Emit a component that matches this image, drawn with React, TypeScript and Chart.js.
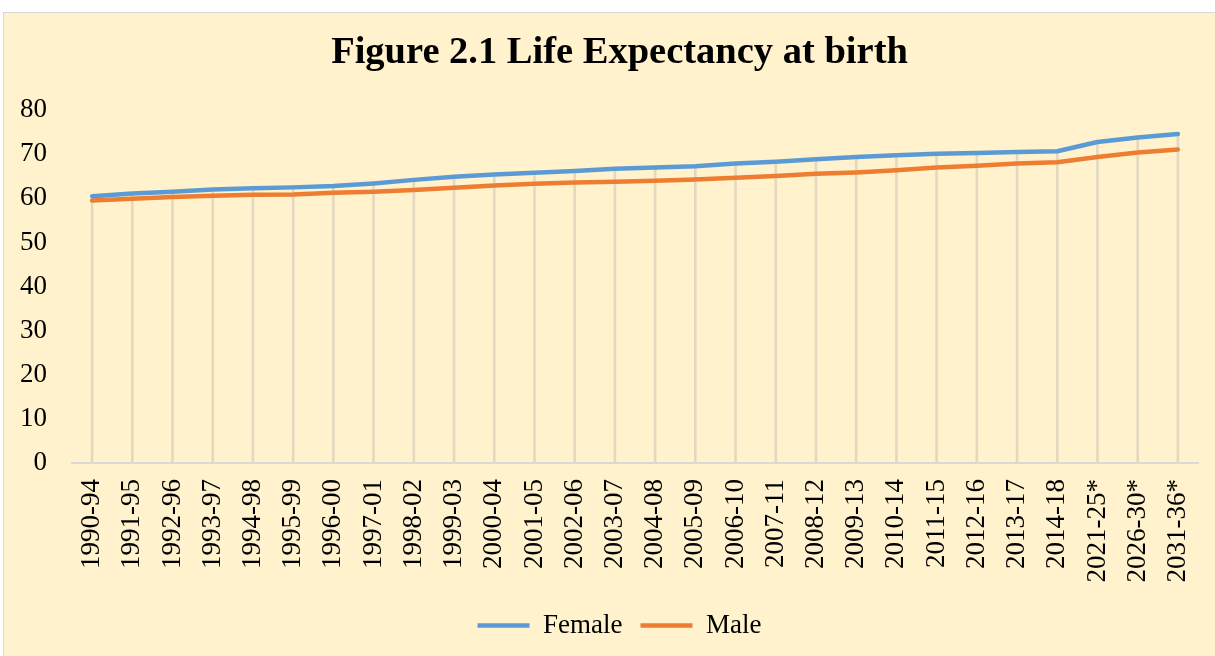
import React, { useEffect, useRef } from "react";
import { Chart, registerables } from "chart.js";

Chart.register(...registerables);

const periods: string[] = [
  "1990-94", "1991-95", "1992-96", "1993-97", "1994-98", "1995-99", "1996-00",
  "1997-01", "1998-02", "1999-03", "2000-04", "2001-05", "2002-06", "2003-07",
  "2004-08", "2005-09", "2006-10", "2007-11", "2008-12", "2009-13", "2010-14",
  "2011-15", "2012-16", "2013-17", "2014-18", "2021-25*", "2026-30*", "2031-36*",
];

const female: number[] = [
  60.5, 61.1, 61.5, 62.0, 62.3, 62.5, 62.8, 63.4, 64.2, 64.9, 65.4, 65.8, 66.2, 66.7,
  67.0, 67.3, 67.9, 68.3, 68.9, 69.4, 69.8, 70.1, 70.3, 70.5, 70.7, 72.8, 73.8, 74.6,
];

const male: number[] = [
  59.5, 59.9, 60.3, 60.6, 60.8, 60.9, 61.3, 61.5, 61.9, 62.4, 62.9, 63.3, 63.6, 63.8,
  64.0, 64.3, 64.7, 65.1, 65.6, 65.9, 66.4, 67.0, 67.4, 67.9, 68.2, 69.4, 70.4, 71.1,
];

const yTicks = { min: 0, max: 80, step: 10 };

const TITLE = "Figure 2.1 Life Expectancy at birth";
const SERIF = "'Liberation Serif', 'Times New Roman', serif";

export default function App() {
  const ref = useRef<HTMLCanvasElement | null>(null);

  useEffect(() => {
    if (!ref.current) return;
    const chart = new Chart(ref.current, {
      type: "line",
      data: {
        labels: periods,
        datasets: [
          {
            type: "line",
            label: "Female",
            data: female,
            borderColor: "#5B9BD5",
            backgroundColor: "#5B9BD5",
            borderWidth: 4.5,
            pointRadius: 0,
            borderCapStyle: "round",
            borderJoinStyle: "round",
            tension: 0,
            fill: false,
            order: 0,
          },
          {
            type: "line",
            label: "Male",
            data: male,
            borderColor: "#ED7D31",
            backgroundColor: "#ED7D31",
            borderWidth: 4.5,
            pointRadius: 0,
            borderCapStyle: "round",
            borderJoinStyle: "round",
            tension: 0,
            fill: false,
            order: 1,
          },
          {
            type: "bar",
            label: "drop",
            data: female,
            backgroundColor: "#E3D9C1",
            barThickness: 2,
            order: 10,
          } as any,
        ],
      },
      options: {
        animation: false,
        responsive: false,
        maintainAspectRatio: false,
        layout: { padding: { left: 0, right: 0, top: 0, bottom: 7 } },
        plugins: {
          title: {
            display: true,
            text: TITLE,
            color: "#000",
            font: { family: SERIF, size: 38.5, weight: "bold" },
            padding: { top: 17, bottom: 34 },
          },
          legend: {
            display: true,
            position: "bottom",
            labels: {
              usePointStyle: true,
              pointStyle: "line",
              pointStyleWidth: 52,
              color: "#000",
              font: { family: SERIF, size: 27 },
              padding: 18,
              filter: (item: any) => item.datasetIndex !== 2,
            },
          },
          tooltip: { enabled: false },
        },
        scales: {
          x: {
            offset: true,
            grid: { display: false, drawTicks: false },
            border: { display: true, color: "#D9D9D9", width: 2 },
            ticks: {
              autoSkip: false,
              minRotation: 90,
              maxRotation: 90,
              color: "#000",
              font: { family: SERIF, size: 27 },
              padding: 16,
            },
            afterFit: (s: any) => {
              s.height = 131;
            },
          },
          y: {
            min: yTicks.min,
            max: yTicks.max,
            grid: { display: false, drawTicks: false },
            border: { display: false },
            ticks: {
              stepSize: yTicks.step,
              color: "#000",
              font: { family: SERIF, size: 27 },
              padding: 25,
            },
            afterFit: (s: any) => {
              s.width = 68;
            },
          },
          yRight: {
            position: "right",
            display: true,
            grid: { display: false, drawTicks: false },
            border: { display: false },
            ticks: { display: false },
            afterFit: (s: any) => {
              s.width = 37;
            },
          },
        },
      },
    });
    return () => chart.destroy();
  }, []);

  return (
    <div style={{ position: "fixed", left: 0, top: 0, width: "100vw", height: "100vh", overflow: "hidden", background: "#fff" }}>
      <div
        style={{
          position: "absolute",
          left: 3,
          top: 12,
          width: 1240,
          height: 700,
          background: "#FFF2CC",
          border: "1px solid #D9D9D9",
        }}
      >
        <canvas ref={ref} width={1231} height={643} style={{ display: "block", width: 1231, height: 643 }} />
      </div>
    </div>
  );
}
